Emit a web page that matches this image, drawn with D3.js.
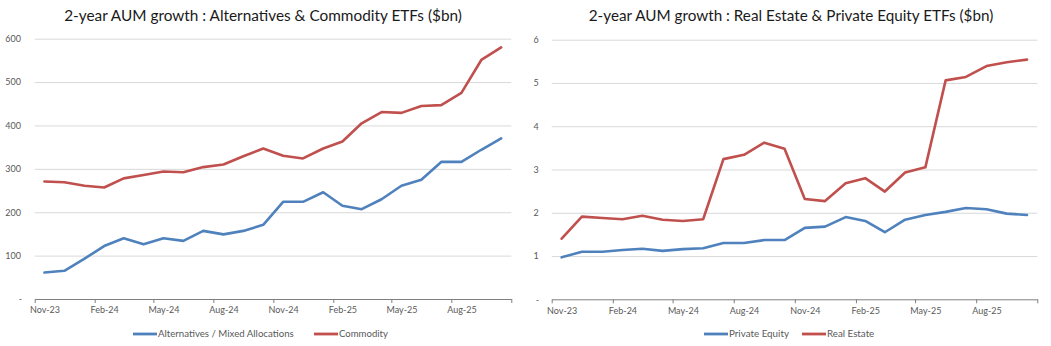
<!DOCTYPE html>
<html>
<head>
<meta charset="utf-8">
<script src="https://cdn.jsdelivr.net/npm/d3@7"></script>
<style>
  html, body { margin: 0; padding: 0; background: #fff; }
  svg { display: block; font-family: Lato, "Open Sans", sans-serif; }
</style>
</head>
<body>
<svg id="chart" width="1051" height="346"></svg>
<script>
// ---------- DATA ----------
const months = ["Nov-23","Dec-23","Jan-24","Feb-24","Mar-24","Apr-24","May-24","Jun-24","Jul-24","Aug-24","Sep-24","Oct-24",
                "Nov-24","Dec-24","Jan-25","Feb-25","Mar-25","Apr-25","May-25","Jun-25","Jul-25","Aug-25","Sep-25","Oct-25"];
const altMixed = [61,65,93,122,140,126,140,134,157,149,157,171,224,224,246,215,207,230,261,275,316,316,344,370];
const commodity = [271,269,261,257,278,286,294,292,304,310,329,347,330,324,347,363,405,431,429,445,447,475,551,580];
const privateEquity = [0.97,1.10,1.10,1.14,1.17,1.12,1.16,1.18,1.30,1.30,1.37,1.37,1.65,1.68,1.90,1.81,1.55,1.84,1.95,2.02,2.11,2.08,1.98,1.95];
const realEstate = [1.40,1.91,1.88,1.85,1.93,1.84,1.81,1.85,3.24,3.34,3.62,3.48,2.32,2.27,2.68,2.80,2.49,2.93,3.05,5.06,5.14,5.39,5.48,5.54];
const leftTicks = [0,100,200,300,400,500,600];
const rightTicks = [0,1,2,3,4,5,6];
const xLabels = ["Nov-23","Feb-24","May-24","Aug-24","Nov-24","Feb-25","May-25","Aug-25"];
const leftTitle = "2-year AUM growth : Alternatives & Commodity ETFs ($bn)";
const rightTitle = "2-year AUM growth : Real Estate & Private Equity ETFs ($bn)";
const leftNames = ["Alternatives / Mixed Allocations","Commodity"];
const rightNames = ["Private Equity","Real Estate"];

// ---------- STYLE ----------
const BLUE = "#4F81BD", RED = "#C0504D";
const parseM = d3.utcParse("%b-%y");
const monthStarts = months.map(parseM);
const mid = d => new Date((d.getTime() + d3.utcMonth.offset(d,1).getTime())/2);

const svg = d3.select("#chart");

function fitText(sel, width) {
  const w = sel.node().getComputedTextLength();
  const fs = parseFloat(sel.attr("font-size"));
  sel.attr("font-size", fs * width / w);
}

function drawChart(cfg) {
  const g = svg.append("g");
  const start = monthStarts[0];
  const end = d3.utcMonth.offset(monthStarts[monthStarts.length-1], 1);
  const x = d3.scaleUtc().domain([start, end]).range([cfg.x0, cfg.x1]);
  const y = d3.scaleLinear().domain([0, cfg.ticks[cfg.ticks.length-1]]).range([cfg.yb, cfg.yt]);

  // gridlines
  g.append("g").attr("transform", `translate(${cfg.x0},0)`)
    .call(d3.axisLeft(y).tickValues(cfg.ticks.filter(t => t>0)).tickSize(-(cfg.x1-cfg.x0)).tickFormat(""))
    .call(s => s.select(".domain").remove())
    .call(s => s.selectAll("line").attr("stroke", "#d9d9d9").attr("stroke-width", 1));

  // y labels
  g.append("g").attr("transform", `translate(${cfg.x0},0)`)
    .call(d3.axisLeft(y).tickValues(cfg.ticks).tickSize(0).tickPadding(cfg.labPad).tickFormat(d => d === 0 ? "-" : d3.format(",")(d)))
    .call(s => s.select(".domain").remove())
    .call(s => s.selectAll("text").attr("font-size", 9).attr("fill", "#595959").attr("font-family", "Lato, sans-serif"))
    .call(s => s.selectAll(".tick").filter(d => d === 0).select("text").attr("x", -cfg.dashPad));

  // x axis with ticks at quarter boundaries
  const bounds = d3.utcMonth.range(start, d3.utcMonth.offset(end,1), 3);
  g.append("g").attr("transform", `translate(0,${cfg.yb})`)
    .call(d3.axisBottom(x).tickValues(bounds).tickSize(4).tickSizeOuter(0).tickFormat(""))
    .call(s => s.select(".domain").attr("stroke", "#7f7f7f"))
    .call(s => s.selectAll("line").attr("stroke", "#7f7f7f"));

  // x labels centred on month
  g.append("g").attr("transform", `translate(0,${cfg.yb})`)
    .call(d3.axisBottom(x).tickValues(xLabels.map(l => mid(parseM(l)))).tickSize(0).tickPadding(8).tickFormat(d3.utcFormat("%b-%y")))
    .call(s => s.select(".domain").remove())
    .call(s => s.selectAll("text").attr("font-size", 9).attr("fill", "#595959").attr("font-family", "Lato, sans-serif"));

  // lines
  const line = d3.line().x((d,i) => x(mid(monthStarts[i]))).y(d => y(d));
  cfg.series.forEach((s) => {
    g.append("path").datum(s.values)
      .attr("d", line).attr("fill", "none").attr("stroke", s.color)
      .attr("stroke-width", 2.6).attr("stroke-linejoin", "round").attr("stroke-linecap", "round");
  });

  // title
  const t = g.append("text").attr("x", cfg.titleCx).attr("y", 20.5).attr("text-anchor", "middle")
    .attr("font-size", 14).attr("fill", "#1a1a1a").text(cfg.title);
  fitText(t, cfg.titleW);

  // legend
  cfg.series.forEach((s, i) => {
    const L = cfg.legend[i];
    g.append("line").attr("x1", L.x).attr("x2", L.x + 24).attr("y1", 334).attr("y2", 334)
      .attr("stroke", s.color).attr("stroke-width", 2.8);
    const tx = g.append("text").attr("x", L.x + 25).attr("y", 337.3).attr("font-size", 9)
      .attr("fill", "#595959").text(s.name);
    fitText(tx, L.w);
  });
}

drawChart({
  x0: 34.7, x1: 511.3, yt: 38.7, yb: 299, ticks: leftTicks, labPad: 13.7, dashPad: 12.7,
  title: leftTitle, titleCx: 263, titleW: 398,
  series: [{name: leftNames[0], values: altMixed, color: BLUE}, {name: leftNames[1], values: commodity, color: RED}],
  legend: [{x: 133, w: 136}, {x: 314, w: 49}]
});
drawChart({
  x0: 551.7, x1: 1037.3, yt: 39.7, yb: 299.3, ticks: rightTicks, labPad: 13, dashPad: 12.5,
  title: rightTitle, titleCx: 791, titleW: 404.6,
  series: [{name: rightNames[0], values: privateEquity, color: BLUE}, {name: rightNames[1], values: realEstate, color: RED}],
  legend: [{x: 704, w: 60}, {x: 802, w: 47.3}]
});
</script>
</body>
</html>
